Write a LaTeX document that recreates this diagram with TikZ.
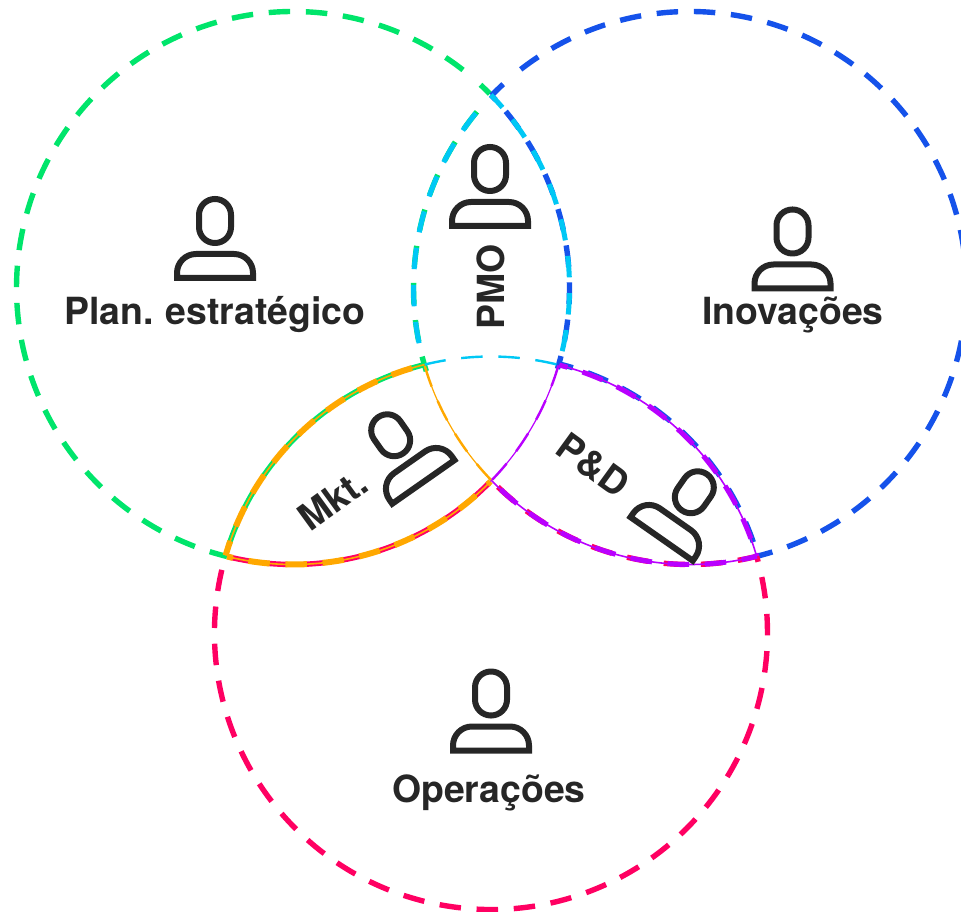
\documentclass[tikz,border=0pt]{standalone}
\usepackage{fontspec}
\setmainfont[WordSpace=0.8]{TeX Gyre Heros}
\definecolor{cgreen}{HTML}{00E56B}
\definecolor{cblue}{HTML}{1552EA}
\definecolor{cred}{HTML}{FF0062}
\definecolor{ccyan}{HTML}{00C8F5}
\definecolor{corange}{HTML}{FFA800}
\definecolor{cpurple}{HTML}{B900FF}
\definecolor{cink}{HTML}{262626}
\tikzset{
  base/.style={line width=5.4pt,dash pattern=on 21.5pt off 15.7pt},
  over/.style={line width=5pt,dash pattern=on 21.5pt off 15.7pt},
  heavy/.style={line width=6pt,dash pattern=on 21.5pt off 15.7pt},
  core/.style={line width=1.6pt},
  hair/.style={line width=1.2pt},
  fine/.style={line width=2.4pt,dash pattern=on 21.5pt off 15.7pt},
  icon/.style={draw=cink,line width=6pt,line join=miter},
  label/.style={text=cink,font=\fontsize{37.4}{42}\selectfont\bfseries,inner sep=0pt}
}
\newcommand\lensarc[4][]{\draw[#1] (#2)++(#3:276.5) arc[start angle=#3,end angle=#4,radius=276.5];}
\newcommand\person[3]{\begin{scope}[shift={(#1,#2)},rotate=#3]
  \draw[icon,rounded corners=15.9pt] (-16,-4) rectangle (16,40);
  \draw[icon] (-38,-39) -- (-38,-34) arc[start angle=180,end angle=90,radius=19] -- (19,-15)
     arc[start angle=90,end angle=0,radius=19] -- (38,-39) -- cycle;
\end{scope}}
\begin{document}
\begin{tikzpicture}[x=1pt,y=1pt]
\useasboundingbox (0,0) rectangle (961,911);
\clip (0,0) rectangle (961,911);
\coordinate (G) at (293,623);
\coordinate (B) at (690,623);
\coordinate (R) at (491,278);
% outer circles
\lensarc[cgreen,base]{G}{52.05}{256.2}
\lensarc[cgreen,line width=5.4pt]{G}{44.6}{47.3}
\lensarc[cblue,base]{B}{127.75}{-76.3}
\lensarc[cblue,line width=5.4pt]{B}{135.9}{132.5}
\lensarc[cred,base]{R}{166.8}{376.5}
% PMO lens
\lensarc[cblue,base,dash phase=15pt]{G}{44.3}{-17}
\lensarc[cgreen,base]{B}{140.4}{197.5}
\lensarc[ccyan,over,dash phase=4.4pt]{G}{44.3}{-14}
\lensarc[ccyan,over]{B}{140.8}{194.4}
\lensarc[ccyan,fine]{R}{103.9}{75.7}
% Mkt lens
\lensarc[cgreen,base,dash phase=5pt]{R}{103.9}{163.7}
\lensarc[cred,base]{G}{-103.3}{-44.4}
\lensarc[corange,core]{R}{103.9}{163.7}
\lensarc[corange,core]{G}{-103.8}{-44.4}
\lensarc[corange,heavy]{R}{106.6}{163.7}
\lensarc[corange,heavy,dash phase=15.4pt]{G}{-103.8}{-44.4}
\lensarc[corange,hair]{B}{196.4}{224.3}
\lensarc[corange,fine]{B}{196.4}{224.3}
% P&D lens
\draw[cblue,base,dash phase=7.7pt] (R)++(75.7:277.6) arc[start angle=75.7,end angle=16.1,radius=277.6];
\lensarc[cred,base]{B}{226}{284}
\lensarc[cpurple,core]{R}{75.7}{16.1}
\lensarc[cpurple,core]{B}{224.3}{284}
\lensarc[cpurple,over,dash phase=13pt]{R}{75.7}{16.1}
\lensarc[cpurple,over]{B}{226.8}{284}
\lensarc[cpurple,hair]{G}{-16.3}{-44.4}
\lensarc[cpurple,fine]{G}{-16.3}{-44.4}
% icons
\person{215}{672}{0}
\person{792.5}{661.5}{0}
\person{491}{199.5}{0}
\person{490}{724}{0}
\person{401}{461}{35}
\person{684}{404}{-35}
% labels
\node[label] (plan) at (215,596) {Plan. estratégico};
\node[label] (inov) at (793,596) {Inovações};
\node[label] (oper) at (489,118) {Operações};
\node[label,rotate=90] (pmo) at (491,624) {PMO};
\node[label,rotate=36] (mkt) at (333,411) {Mkt.};
\node[label,rotate=-36] (pd) at (593,446) {P\&D};
\end{tikzpicture}
\end{document}
